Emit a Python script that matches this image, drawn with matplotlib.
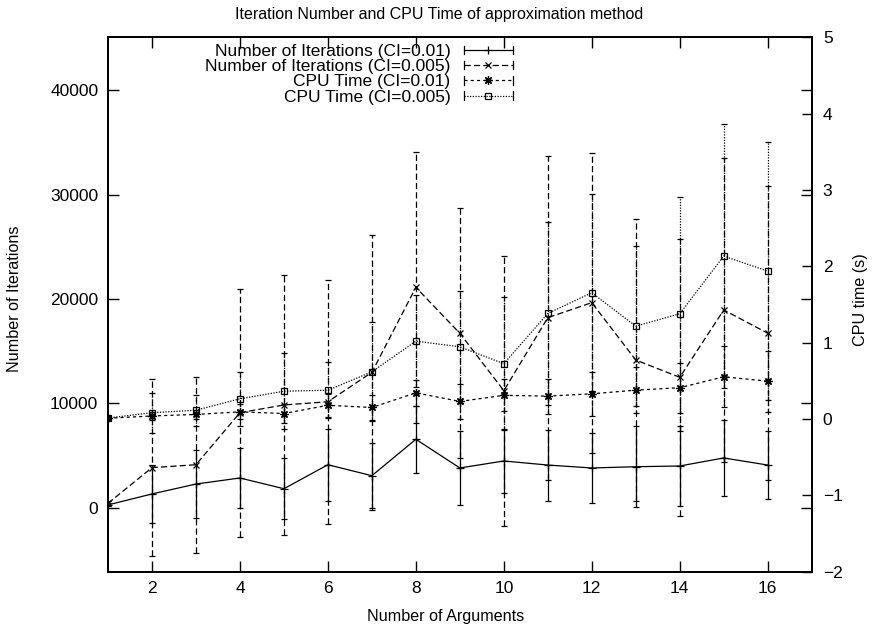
import matplotlib
matplotlib.use("Agg")
import matplotlib.pyplot as plt
from matplotlib.lines import Line2D
from matplotlib.legend_handler import HandlerBase

plt.rcParams['font.family'] = ['Liberation Sans', 'DejaVu Sans']

# ---------------- data ----------------
args = [1, 2, 3, 4, 5, 6, 7, 8, 9, 10, 11, 12, 13, 14, 15, 16]

iter_001 = [250, 1300, 2250, 2830, 1800, 4100, 3050, 6540, 3790, 4460, 4070, 3790, 3910, 3980, 4750, 4070]
iter_001_err = [150, 2800, 3300, 2900, 2900, 3470, 3100, 3200, 3580, 3100, 3400, 3360, 3880, 3800, 3630, 3230]

iter_0005 = [400, 3820, 4100, 9090, 9830, 10140, 12960, 21110, 16700, 11200, 18200, 19640, 14140, 12480, 18940, 16710]
iter_0005_err = [200, 8470, 8430, 11900, 12430, 11700, 13170, 13000, 11990, 12940, 15530, 14380, 13490, 13260, 14600, 14110]

cpu_001 = [0.01, 0.04, 0.06, 0.094, 0.072, 0.18, 0.151, 0.343, 0.23, 0.31, 0.30, 0.33, 0.378, 0.41, 0.553, 0.496]
cpu_001_err = [0.01, 0.05, 0.06, 0.10, 0.12, 0.15, 0.17, 0.17, 0.23, 0.21, 0.23, 0.285, 0.30, 0.33, 0.40, 0.40]

cpu_0005 = [0.013, 0.083, 0.115, 0.265, 0.364, 0.377, 0.618, 1.02, 0.946, 0.724, 1.383, 1.654, 1.216, 1.379, 2.134, 1.937]
cpu_0005_err = [0.01, 0.26, 0.20, 0.35, 0.50, 0.37, 0.65, 0.60, 0.73, 0.87, 1.20, 1.29, 1.05, 1.53, 1.73, 1.69]

labels = ["Number of Iterations (CI=0.01)", "Number of Iterations (CI=0.005)",
          "CPU Time (CI=0.01)", "CPU Time (CI=0.005)"]
title = "Iteration Number and CPU Time of approximation method"
xlabel = "Number of Arguments"
ylabel = "Number of Iterations"
y2label = "CPU time (s)"
xticks = [2, 4, 6, 8, 10, 12, 14, 16]
yticks = [0, 10000, 20000, 30000, 40000]
y2ticks = [-2, -1, 0, 1, 2, 3, 4, 5]

# ---------------- styles ----------------
W, H = 878, 630
LW = 0.9
FS = 12.5
FSL = 11.6
styles = [
    dict(ls='-', marker='+', ms=6, mfc='k'),
    dict(ls=(0, (5, 2.5)), marker='x', ms=5, mfc='k'),
    dict(ls=(0, (2.5, 2.5)), marker=(8, 2, 0), ms=6, mfc='k'),
    dict(ls=(0, (1, 1.2)), marker='s', ms=5, mfc='none'),
]

fig = plt.figure(figsize=(W / 100, H / 100), dpi=100)
L, R, T, B = 108, 811.7, 37.3, 571.7
ax = fig.add_axes([L / W, 1 - B / H, (R - L) / W, (B - T) / H])
ax2 = ax.twinx()


def draw(axis, y, e, st):
    cont = axis.errorbar(args, y, yerr=e, color='k', lw=LW, ls=st['ls'],
                         marker=st['marker'], ms=st['ms'], mfc=st['mfc'], mec='k',
                         mew=LW, capsize=2.5, capthick=LW, elinewidth=LW)
    for lc in cont[2]:
        lc.set_linestyle(st['ls'])
    return cont


draw(ax, iter_001, iter_001_err, styles[0])
draw(ax, iter_0005, iter_0005_err, styles[1])
draw(ax2, cpu_001, cpu_001_err, styles[2])
draw(ax2, cpu_0005, cpu_0005_err, styles[3])

ax.set_xlim(1, 17)
ax.set_ylim(-6155, 45080)
ax2.set_ylim(-2, 5)
ax.set_xticks(xticks)
ax.set_yticks(yticks)
ax2.set_yticks(y2ticks)

for a in (ax, ax2):
    for s in a.spines.values():
        s.set_linewidth(1.3)
ax.tick_params(direction='in', length=8, width=1, top=True, right=True,
               labelsize=FS, pad=7)
ax2.tick_params(direction='in', length=7, width=1, left=False, right=True,
                labelsize=FS, pad=8)

ax.set_xlabel(xlabel, fontsize=FSL)
ax.xaxis.set_label_coords((446 - L) / (R - L), (B - 617) / (B - T))
ax.xaxis.label.set_va('center')
ax.set_ylabel(ylabel, fontsize=FSL)
ax.yaxis.set_label_coords((14 - L) / (R - L), 0.51)
ax.yaxis.label.set_va('center')
ax2.set_ylabel(y2label, fontsize=FSL)
ax2.yaxis.set_label_coords((861 - L) / (R - L), 0.51)
ax2.yaxis.label.set_va('center')

fig.text(0.5, 1 - 14 / H, title, ha='center', va='center', fontsize=11.5)


# gnuplot-like key sample: horizontal line with end ticks and marker at centre
class GnuKey(HandlerBase):
    def create_artists(self, legend, orig, xd, yd, width, height, fontsize, trans):
        y = height / 2 - yd
        x0, x1 = -xd, -xd + width
        st = orig._st
        art = [Line2D([x0, x1], [y, y], color='k', lw=LW, linestyle=st['ls']),
               Line2D([x0, x0], [y - 3, y + 3], color='k', lw=LW),
               Line2D([x1, x1], [y - 3, y + 3], color='k', lw=LW),
               Line2D([(x0 + x1) / 2], [y], ls='none', marker=st['marker'],
                      ms=st['ms'], mfc=st['mfc'], mec='k', mew=LW)]
        for a in art:
            a.set_transform(trans)
        return art


proxies = []
for st in styles:
    p = Line2D([], [], color='k')
    p._st = st
    proxies.append(p)

leg = ax2.legend(proxies, labels, handler_map={Line2D: GnuKey()},
                 loc='upper right', bbox_to_anchor=(513 / W, 1 - 44 / H),
                 bbox_transform=fig.transFigure, frameon=False, markerfirst=False,
                 fontsize=FS, handlelength=2.85, handletextpad=0.75,
                 labelspacing=0.0, borderpad=0, borderaxespad=0)

fig.savefig("out.png", dpi=100)
